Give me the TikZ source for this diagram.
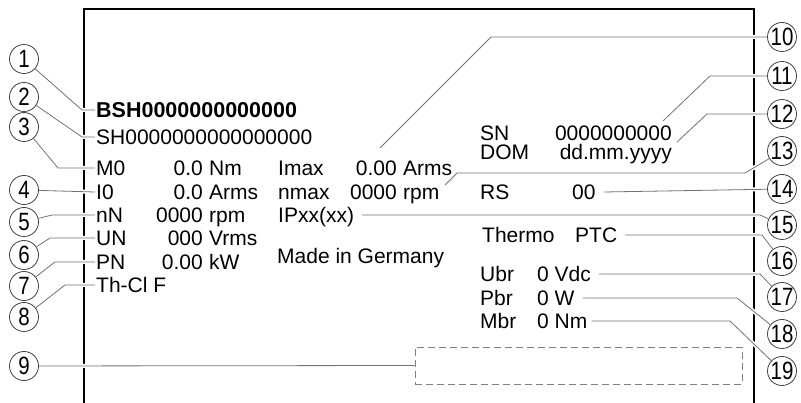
\documentclass[tikz,border=0pt]{standalone}
\usepackage{fontspec}
\setmainfont{Liberation Sans}
\newfontfamily\callfont[FakeStretch=0.82]{Liberation Sans}
\usetikzlibrary{calc}
\tikzset{txt/.style={anchor=west,inner sep=1pt,text height=15pt,text depth=0pt,font=\fontsize{21}{25}\selectfont},head/.style={txt,font=\fontsize{21.5}{25}\selectfont\bfseries},val/.style={txt,anchor=east},num/.style={draw=black!75,line width=0.8pt,circle,minimum size=29pt,inner sep=0pt,font=\callfont\fontsize{25}{27}\selectfont},leader/.style={draw=black!55,line width=0.8pt,preaction={draw=white,line width=4pt,shorten <=4pt,shorten >=4pt}},frame/.style={line width=1.8pt},field/.style={draw=black!50,line width=0.8pt,dash pattern=on 7pt off 4pt,minimum width=327pt,minimum height=37pt,inner sep=0pt}}

\begin{document}
\begin{tikzpicture}[x=1pt,y=-1pt]
\useasboundingbox (0,0) rectangle (801,403);
\draw[frame] (84,403)--(84,9)--(754,9)--(754,403);
% left block
\node[head] (bsh) at (95,110) {BSH0000000000000};
\node[txt] (sh) at (95,137) {SH0000000000000000};
\node[txt] (m0) at (95,168) {M0};
\node[val] (m0v) at (204,168) {0.0};
\node[txt] at (208,168) {Nm};
\node[txt] (i0) at (95,192) {I0};
\node[val] (i0v) at (204,192) {0.0};
\node[txt] at (208,192) {Arms};
\node[txt] (nn) at (95,215) {nN};
\node[val] (nnv) at (204,215) {0000};
\node[txt] at (208,215) {rpm};
\node[txt] (un) at (95,238) {UN};
\node[val] (unv) at (204,238) {000};
\node[txt] at (208,238) {Vrms};
\node[txt] (pn) at (95,262) {PN};
\node[val] (pnv) at (204,262) {0.00};
\node[txt] at (208,262) {kW};
\node[txt] (thcl) at (95,285) {Th-Cl F};
% middle block
\node[txt] (imax) at (277,168) {Imax};
\node[val] (imaxv) at (398,168) {0.00};
\node[txt] at (402,168) {Arms};
\node[txt] (nmax) at (277,192) {nmax};
\node[val] (nmaxv) at (398,192) {0000};
\node[txt] (nmaxu) at (402,192) {rpm};
\node[txt] (ipxx) at (277,215) {IPxx(xx)};
\node[txt] (made) at (276,256) {Made in Germany};
% right block
\node[txt] (sn) at (479,133) {SN};
\node[val] (snv) at (673,133) {0000000000};
\node[txt] (dom) at (479,152) {DOM};
\node[val] (domv) at (673,152) {dd.mm.yyyy};
\node[txt] (rs) at (479,192) {RS};
\node[txt] (rsv) at (571,192) {00};
\node[txt] (thermo) at (481,235) {Thermo};
\node[txt] (ptc) at (574,235) {PTC};
\node[txt] (ubr) at (479,274) {Ubr};
\node[txt] (ubrv) at (536,274) {0 Vdc};
\node[txt] (pbr) at (479,298) {Pbr};
\node[txt] (pbrv) at (536,298) {0 W};
\node[txt] (mbr) at (479,321) {Mbr};
\node[txt] (mbrv) at (536,321) {0 Nm};
\node[field] (field) at (578.5,365.5) {};
% callouts
\node[num] (c1) at (24,59) {1};
\node[num] (c2) at (24,97) {2};
\node[num] (c3) at (24,127) {3};
\node[num] (c4) at (24,190) {4};
\node[num] (c5) at (24,222) {5};
\node[num] (c6) at (24,255) {6};
\node[num] (c7) at (24,286) {7};
\node[num] (c8) at (24,317) {8};
\node[num] (c9) at (24,366) {9};
\node[num] (c10) at (782,37) {10};
\node[num] (c11) at (782,76) {11};
\node[num] (c12) at (782,114) {12};
\node[num] (c13) at (782,151) {13};
\node[num] (c14) at (782,189) {14};
\node[num] (c15) at (782,225) {15};
\node[num] (c16) at (782,261) {16};
\node[num] (c17) at (782,297) {17};
\node[num] (c18) at (782,334) {18};
\node[num] (c19) at (782,371) {19};
\coordinate (t10) at (380,148);
\coordinate (t11) at (663,121);
\coordinate (t12) at (677,142);
\coordinate (t13) at (445,185);
% leaders
\draw[leader] (c1)--($(bsh.west)+(-13,0)$)--(bsh.west);
\draw[leader] (c2)--($(sh.west)+(-13,0)$)--(sh.west);
\draw[leader] (c3)--($(m0.west)+(-37,0)$)--(m0.west);
\draw[leader] (c4)--(i0.west);
\draw[leader] (c5)--($(nn.west)+(-43,0)$)--(nn.west);
\draw[leader] (c6)--($(un.west)+(-45,0)$)--(un.west);
\draw[leader] (c7)--($(pn.west)+(-40,0)$)--(pn.west);
\draw[leader] (c8)--($(thcl.west)+(-30,0)$)--(thcl.west);
\draw[leader] (c9)--(field.west);
\draw[leader] (c10)--++(-291,0)--(t10);
\draw[leader] (c11)--++(-72,0)--(t11);
\draw[leader] (c12)--++(-75,0)--(t12);
\draw[leader] (c13)--++(-37,22)--++(-288,0)--(t13);
\draw[leader] (c14)--($(rsv.east)+(7,0)$);
\draw[leader] ($(ipxx.east)+(7,0)$)--(760,215)--(c15);
\draw[leader] ($(ptc.east)+(7,0)$)--(762,235)--(c16);
\draw[leader] ($(ubrv.east)+(7,0)$)--(760,274)--(c17);
\draw[leader] ($(pbrv.east)+(7,0)$)--(737,298)--(c18);
\draw[leader] ($(mbrv.east)+(3,0)$)--(730,321)--(c19);
\end{tikzpicture}
\end{document}
